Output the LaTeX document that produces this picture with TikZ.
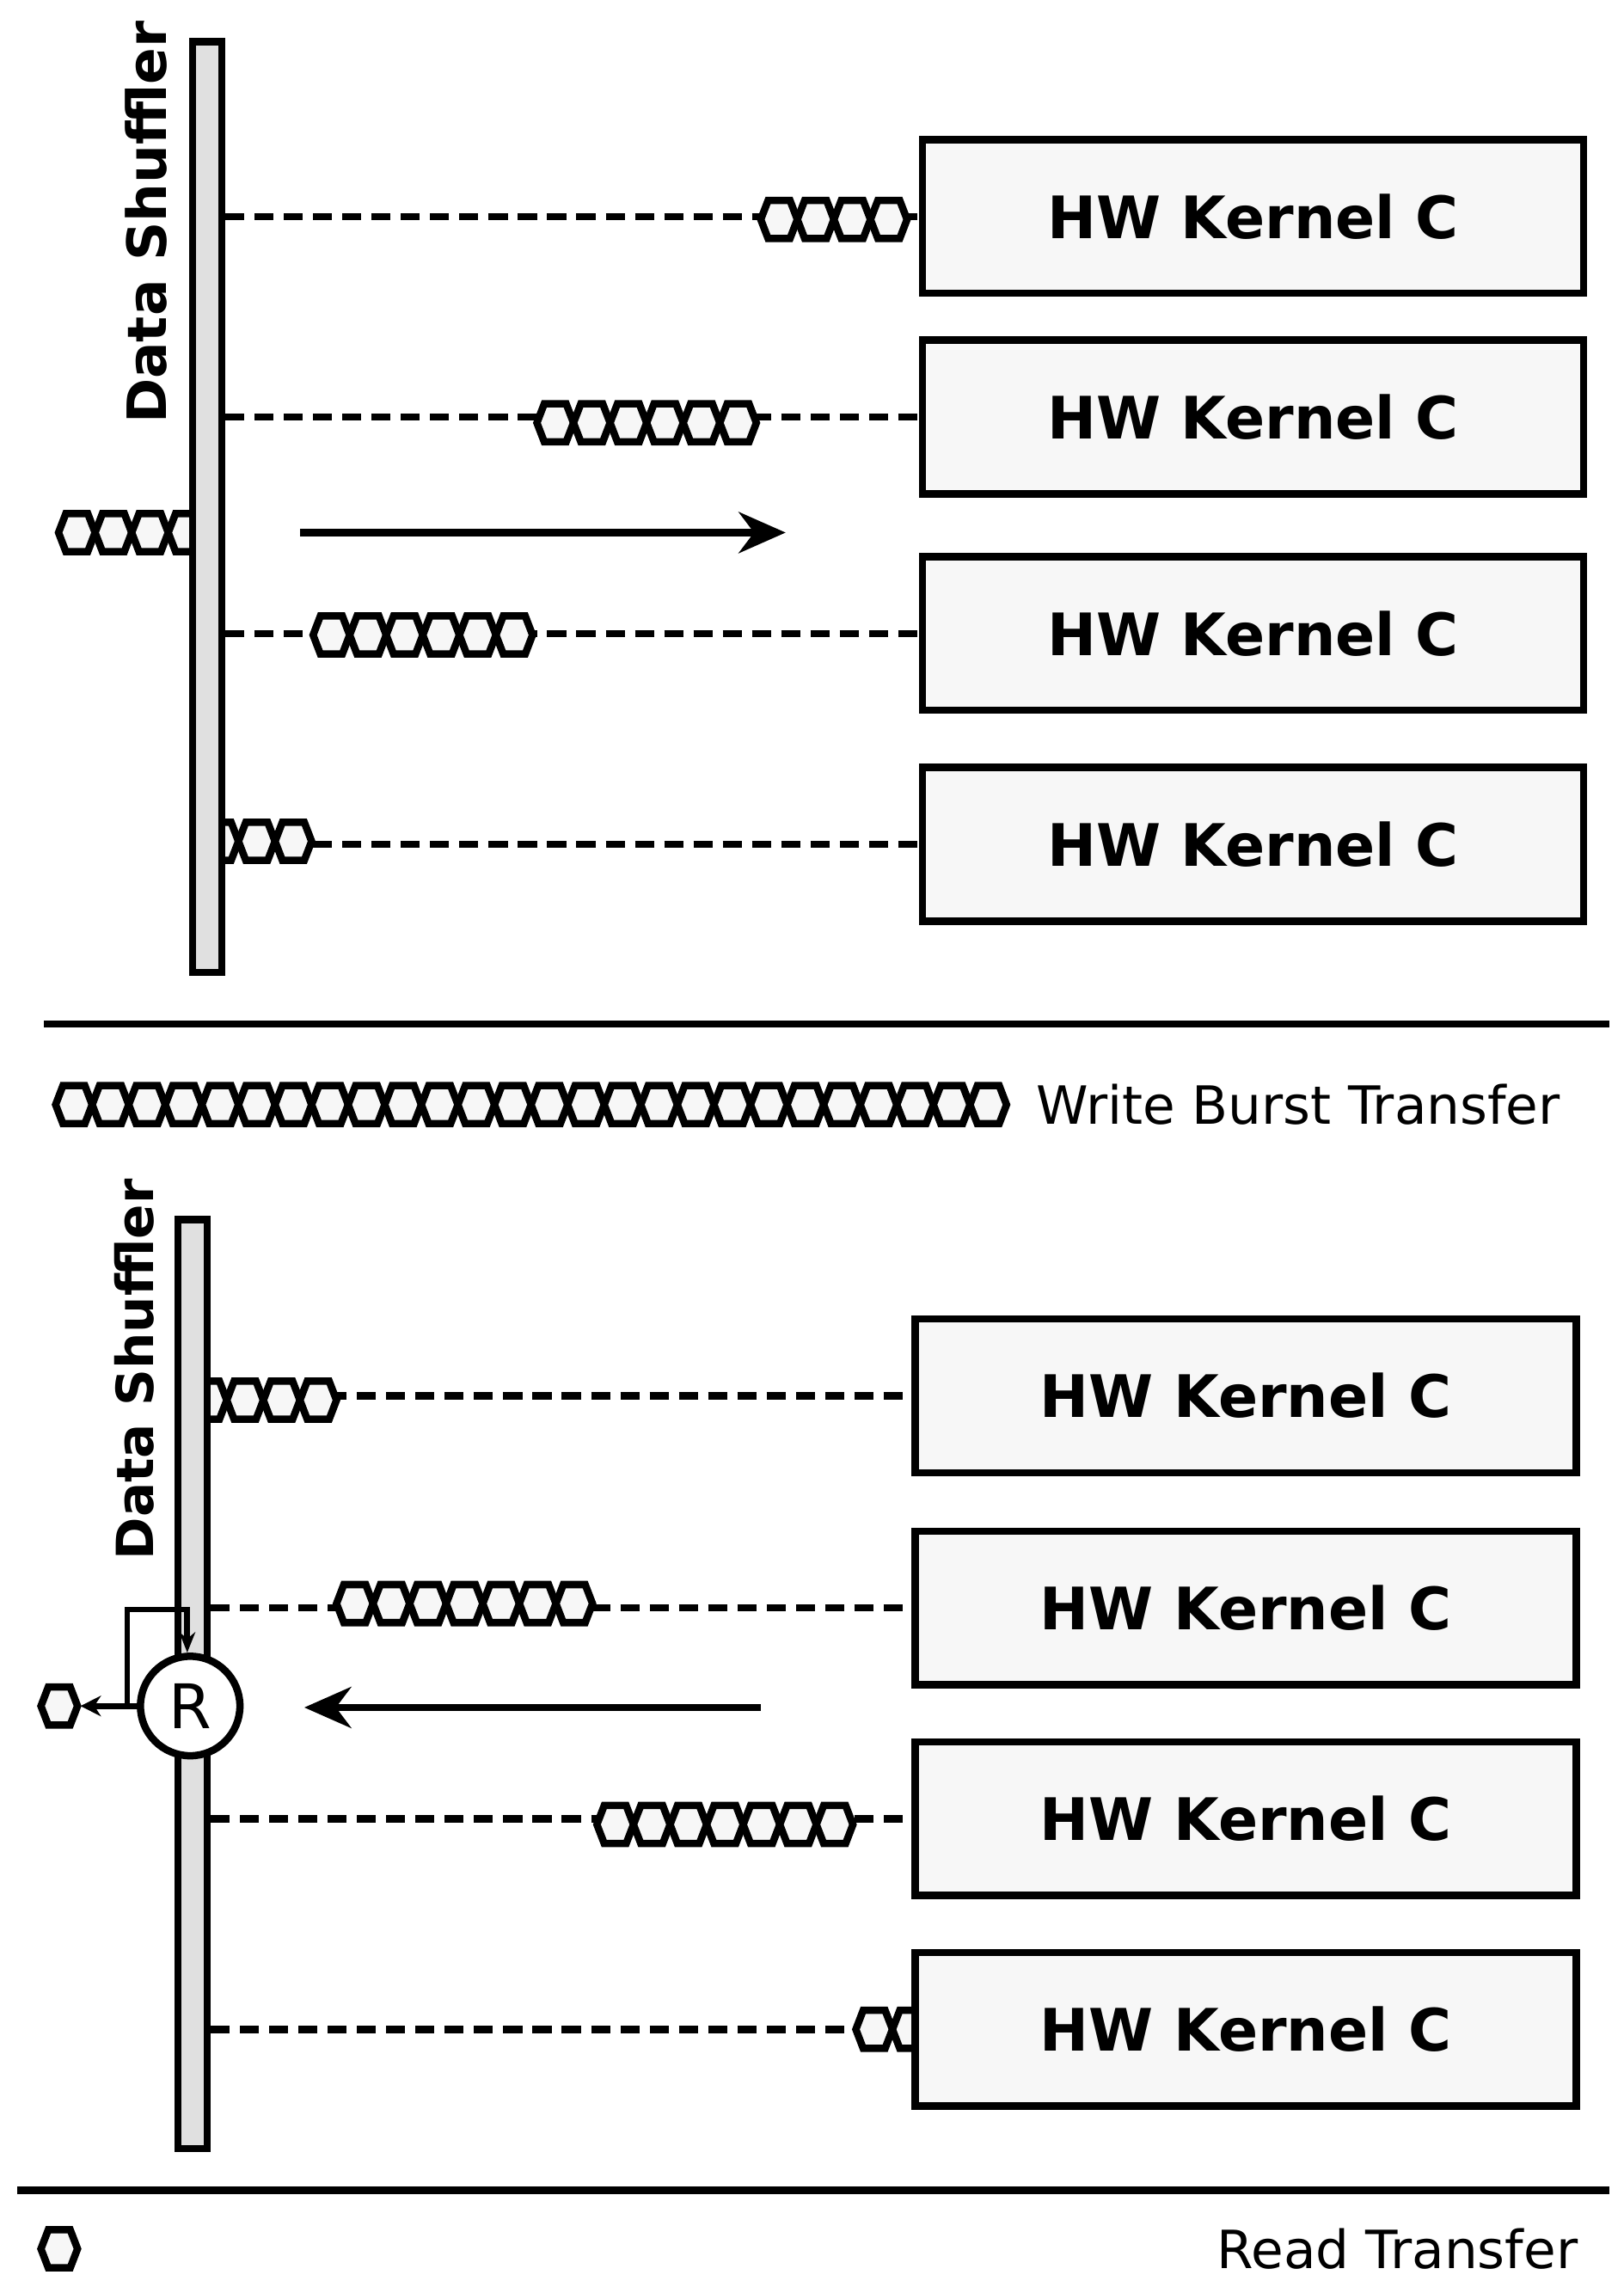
\documentclass[tikz,border=0pt]{standalone}
\usepackage{fontspec}
\setmainfont{DejaVu Sans}
\usetikzlibrary{arrows.meta}
\pgfdeclarelayer{dashl}\pgfdeclarelayer{hexl}
\pgfsetlayers{dashl,hexl,main}
\tikzset{
 kbox/.style={draw,line width=5pt,fill=black!3,minimum width=452pt,anchor=north west,font=\bfseries\fontsize{40}{40}\selectfont,inner sep=0pt},
 bar/.style={draw,line width=5pt,fill=black!12,minimum width=20pt,anchor=north west,inner sep=0pt},
 dline/.style={line width=5pt,dash pattern=on 13pt off 7pt},
 hexs/.style={draw,line width=5pt,fill=black!3},
 bigarrow/.style={line width=5pt,-{Stealth[length=32pt,width=28pt]}},
}
\newcommand{\hexrow}[3]{\begin{pgfonlayer}{hexl}\foreach \i in {1,...,#3}{\pgfmathsetmacro{\xa}{#1+(\i-1)*25}
 \draw[hexs] (\xa,#2) -- ++(5,-13) -- ++(15,0) -- ++(5,13) -- ++(-5,13) -- ++(-15,0) -- cycle;}\end{pgfonlayer}}
\begin{document}
\begin{tikzpicture}[x=1pt,y=-1pt]
\useasboundingbox (0,0) rectangle (1110,1559);
% top
\node[bar,minimum height=636pt] (barA) at (129,26) {};
\foreach \n/\y in {1/93,2/230,3/378,4/522}{
 \node[kbox,minimum height=105pt] (ka\n) at (628,\y) {HW Kernel C};
 \begin{pgfonlayer}{dashl}\draw[dline] (barA.east |- ka\n.west) -- (ka\n.west);\end{pgfonlayer}}
\hexrow{520}{150}{4}
\hexrow{367}{289}{6}
\hexrow{214}{434}{6}
\hexrow{138}{575}{3}
\hexrow{40}{364}{4}
\node[rotate=90,font=\bfseries\fontsize{37}{37}\selectfont] (dsA) at (100,152) {Data Shuffler};
\coordinate (a1) at (205,364); \coordinate (a2) at (537,364);
\draw[bigarrow] (a1) -- (a2);
\draw[line width=5pt] (30,700) -- (1100,700);
\hexrow{38}{755}{26}
\node[anchor=west,font=\fontsize{36}{36}\selectfont] (wbt) at (705,755) {Write Burst Transfer};
% bottom
\node[bar,minimum height=635pt] (barB) at (119,831) {};
\foreach \n/\y in {1/899,2/1044,3/1188,4/1332}{
 \node[kbox,minimum height=105pt] (kb\n) at (623,\y) {HW Kernel C};
 \begin{pgfonlayer}{dashl}\draw[dline] (barB.east |- kb\n.west) -- (kb\n.west);\end{pgfonlayer}}
\hexrow{130}{957}{4}
\hexrow{230}{1096}{7}
\hexrow{408}{1247}{7}
\hexrow{585}{1387}{2}
\node[rotate=90,font=\bfseries\fontsize{35}{35}\selectfont] (dsB) at (92,936) {Data Shuffler};
\node[circle,draw,line width=5pt,fill=white,minimum size=68pt,inner sep=0pt,font=\fontsize{42}{42}\selectfont] (R) at (130,1166) {R};
\hexrow{28}{1166}{1}
\coordinate (hout) at (55,1166);
\draw[line width=4pt,-{Stealth[length=14pt,width=14pt]}] (R.west) -- (hout);
\draw[line width=4pt,-{Stealth[length=14pt,width=11pt]}] (87,1166) -- (87,1100) -- (128,1100) -- (R.north -| 128,0);
\coordinate (b1) at (520,1167); \coordinate (b2) at (208,1167);
\draw[bigarrow] (b1) -- (b2);
\draw[line width=5pt] (12,1497) -- (1100,1497);
\hexrow{28}{1537}{1}
\node[anchor=east,font=\fontsize{36}{36}\selectfont] (rt) at (1082,1537) {Read Transfer};
\end{tikzpicture}
\end{document}
